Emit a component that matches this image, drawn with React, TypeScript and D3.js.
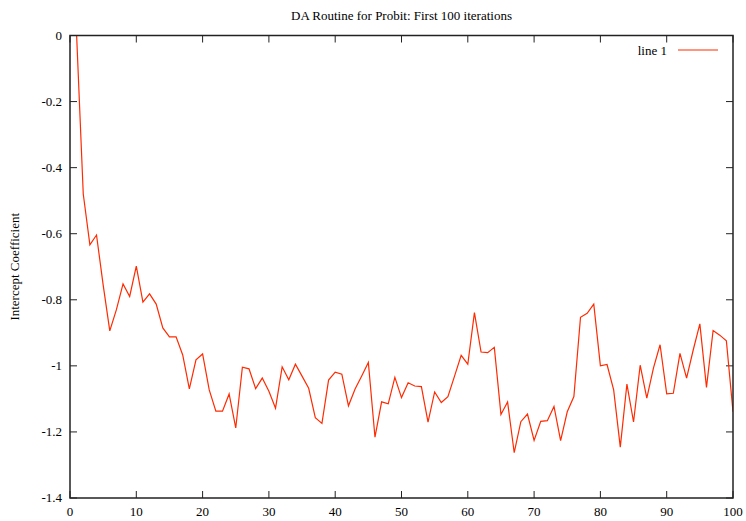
import React from 'react';
import * as d3 from 'd3';

// DA routine draws, iterations 1..100
const iterations = d3.range(1, 101);
const intercept = [
  0, -0.48, -0.634, -0.604, -0.755, -0.894, -0.83, -0.752, -0.79, -0.698,
  -0.807, -0.782, -0.813, -0.885, -0.912, -0.912, -0.967, -1.07, -0.982, -0.964,
  -1.073, -1.137, -1.137, -1.085, -1.188, -1.004, -1.009, -1.069, -1.037, -1.077,
  -1.128, -1.003, -1.042, -0.995, -1.031, -1.068, -1.157, -1.174, -1.043, -1.019,
  -1.025, -1.121, -1.07, -1.031, -0.99, -1.216, -1.109, -1.115, -1.035, -1.096,
  -1.051, -1.061, -1.063, -1.17, -1.079, -1.111, -1.093, -1.031, -0.968, -0.995,
  -0.839, -0.958, -0.96, -0.944, -1.147, -1.109, -1.263, -1.169, -1.146, -1.226,
  -1.168, -1.166, -1.123, -1.226, -1.139, -1.093, -0.853, -0.841, -0.813, -1.0,
  -0.996, -1.073, -1.246, -1.055, -1.17, -0.998, -1.098, -1.007, -0.936, -1.085,
  -1.083, -0.962, -1.037, -0.952, -0.873, -1.065, -0.893, -0.907, -0.924, -1.139,
];
const xTicks = [0, 10, 20, 30, 40, 50, 60, 70, 80, 90, 100];
const yTicks = [0, -0.2, -0.4, -0.6, -0.8, -1, -1.2, -1.4];

const width = 746;
const height = 521;
const margin = { top: 35.5, right: 13, bottom: 23, left: 70 };
const font = "'Liberation Serif', 'Times New Roman', 'DejaVu Serif', serif";
const red = '#ff2a00';

export default function App() {
  const x = d3
    .scaleLinear()
    .domain([0, 100])
    .range([margin.left, width - margin.right]);
  const y = d3
    .scaleLinear()
    .domain([-1.4, 0])
    .range([height - margin.bottom, margin.top]);

  const line = d3
    .line<number>()
    .x((d, i) => x(iterations[i]))
    .y((d) => y(d));

  const x0 = x.range()[0];
  const x1 = x.range()[1];
  const y0 = y.range()[0];
  const y1 = y.range()[1];
  const tick = 7;

  return (
    <svg
      width={width}
      height={height}
      style={{
        position: 'absolute',
        left: 0,
        top: 0,
        background: '#fff',
        fontFamily: font,
        fontSize: 13,
      }}
    >
      <defs>
        <clipPath id='plot'>
          <rect x={x0} y={y1} width={x1 - x0} height={y0 - y1} />
        </clipPath>
      </defs>

      {/* title */}
      <text x={(x0 + x1) / 2} y={20} textAnchor='middle'>
        DA Routine for Probit: First 100 iterations
      </text>

      {/* y label */}
      <text
        transform={`translate(19, ${(y0 + y1) / 2}) rotate(-90)`}
        textAnchor='middle'
      >
        Intercept Coefficient
      </text>

      {/* ticks, mirrored on all sides */}
      {xTicks.map((t) => (
        <g key={'x' + t}>
          <line x1={x(t)} x2={x(t)} y1={y0} y2={y0 - tick} stroke='#222' />
          <line x1={x(t)} x2={x(t)} y1={y1} y2={y1 + tick} stroke='#222' />
          <text x={x(t)} y={y0 + 18} textAnchor='middle'>
            {t}
          </text>
        </g>
      ))}
      {yTicks.map((t) => (
        <g key={'y' + t}>
          <line x1={x0} x2={x0 + tick} y1={y(t)} y2={y(t)} stroke='#222' />
          <line x1={x1} x2={x1 - tick} y1={y(t)} y2={y(t)} stroke='#222' />
          <text x={x0 - 8} y={y(t) + 4} textAnchor='end'>
            {String(t)}
          </text>
        </g>
      ))}

      {/* data */}
      <path
        d={line(intercept) || ''}
        fill='none'
        stroke={red}
        strokeWidth={1.2}
        clipPath='url(#plot)'
      />

      {/* frame */}
      <rect
        x={x0}
        y={y1}
        width={x1 - x0}
        height={y0 - y1}
        fill='none'
        stroke='#222'
        strokeWidth={1.5}
      />

      {/* legend */}
      <text x={667} y={55} textAnchor='end'>
        line 1
      </text>
      <line x1={678} x2={718} y1={50} y2={50} stroke={red} strokeWidth={1.2} />
    </svg>
  );
}
